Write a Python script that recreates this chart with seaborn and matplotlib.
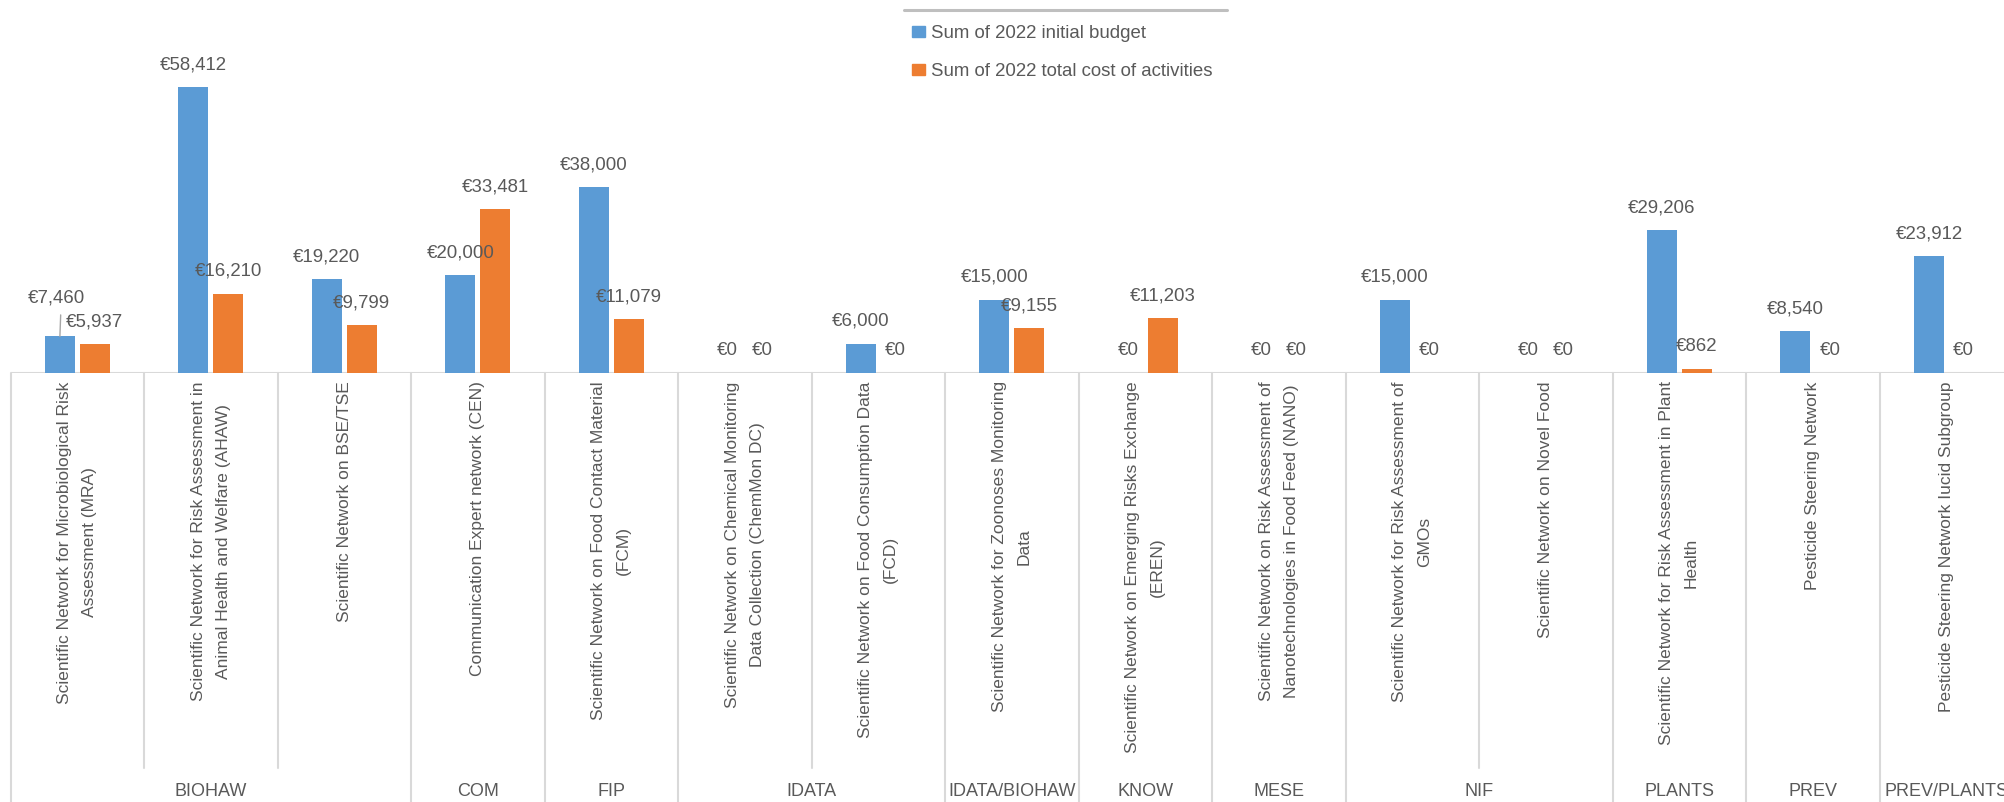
import matplotlib
matplotlib.use("Agg")
import matplotlib.pyplot as plt
import matplotlib.transforms as mtransforms
from matplotlib.lines import Line2D
import numpy as np
import pandas as pd
import seaborn as sns

sns.set_theme(style="white")
plt.rcParams["font.family"] = ["Liberation Sans", "DejaVu Sans"]

networks = [
    "Scientific Network for Microbiological Risk\nAssessment (MRA)",
    "Scientific Network for Risk Assessment in\nAnimal Health and Welfare (AHAW)",
    "Scientific Network on BSE/TSE",
    "Communication Expert network (CEN)",
    "Scientific Network on Food Contact Material\n(FCM)",
    "Scientific Network on Chemical Monitoring\nData Collection (ChemMon DC)",
    "Scientific Network on Food Consumption Data\n(FCD)",
    "Scientific Network for Zoonoses Monitoring\nData",
    "Scientific Network on Emerging Risks Exchange\n(EREN)",
    "Scientific Network on Risk Assessment of\nNanotechnologies in Food Feed (NANO)",
    "Scientific Network for Risk Assessment of\nGMOs",
    "Scientific Network on Novel Food",
    "Scientific Network for Risk Assessment in Plant\nHealth",
    "Pesticide Steering Network",
    "Pesticide Steering Network Iucid Subgroup",
]
units = ["BIOHAW", "BIOHAW", "BIOHAW", "COM", "FIP", "IDATA", "IDATA",
         "IDATA/BIOHAW", "KNOW", "MESE", "NIF", "NIF", "PLANTS", "PREV",
         "PREV/PLANTS"]
initial_budget = [7460, 58412, 19220, 20000, 38000, 0, 6000, 15000, 0, 0,
                  15000, 0, 29206, 8540, 23912]
total_cost = [5937, 16210, 9799, 33481, 11079, 0, 0, 9155, 11203, 0,
              0, 0, 862, 0, 0]
series = ["Sum of 2022 initial budget", "Sum of 2022 total cost of activities"]
colors = ["#5B9BD5", "#ED7D31"]
text_col = "#595959"
grid_col = "#D9D9D9"

df = pd.DataFrame({
    "network": networks * 2,
    "series": [series[0]] * len(networks) + [series[1]] * len(networks),
    "value": initial_budget + total_cost,
})

W, H = 2004, 802
fig = plt.figure(figsize=(W / 100, H / 100), dpi=100)
n = len(networks)
left_px, cat_px, base_px = 10.5, 133.5, 373
ax = fig.add_axes([left_px / W, 1 - base_px / H, n * cat_px / W, base_px / H])

sns.barplot(data=df, x="network", y="value", hue="series", order=networks,
            hue_order=series, palette=colors, width=0.52, gap=0.13,
            linewidth=0, saturation=1, ax=ax)
ax.legend_.remove()
ax.set_xlim(-0.5, n - 0.5)
ax.set_ylim(0, 76180)
ax.set_xlabel("")
ax.set_ylabel("")
ax.set_yticks([])
for s in ax.spines.values():
    s.set_visible(False)
ax.axhline(0, color=grid_col, lw=1.5, zorder=0)

ax.set_xticks(range(n))
ax.set_xticklabels(networks, rotation=90, fontsize=12.5, color=text_col,
                   multialignment="center", linespacing=1.8)
ax.tick_params(axis="x", length=0, pad=6)

# data labels (first budget label was dragged up in the original, with a leader line)
nudge = {(0, 0): 12}
for si, cont in enumerate(ax.containers):
    for ci, bar in enumerate(cont):
        v = bar.get_height()
        x = bar.get_x() + bar.get_width() / 2
        extra = nudge.get((si, ci), 0)
        if extra:
            ax.annotate(f"€{v:,.0f}", xy=(x, v), xytext=(-2.5, 16 + extra),
                        textcoords="offset points", ha="center", va="center",
                        fontsize=13.4, color=text_col, annotation_clip=False,
                        arrowprops=dict(arrowstyle="-", color="#A6A6A6", lw=1,
                                        relpos=(0.58, 0), shrinkA=4, shrinkB=0))
        else:
            ax.annotate(f"€{v:,.0f}", xy=(x, v), xytext=(0, 16),
                        textcoords="offset points", ha="center", va="center",
                        fontsize=13.4, color=text_col, annotation_clip=False)

# category separators and group labels
tr = mtransforms.blended_transform_factory(ax.transData, fig.transFigure)
y_base = 1 - base_px / H
y_inner = 1 - 768 / H
bounds = [0]
for i in range(1, n):
    if units[i] != units[i - 1]:
        bounds.append(i)
bounds.append(n)
for i in range(n + 1):
    y_end = 0 if i in bounds else y_inner
    ax.plot([i - 0.5, i - 0.5], [y_base, y_end], color=grid_col, lw=1.5,
            transform=tr, clip_on=False)
for a, b in zip(bounds[:-1], bounds[1:]):
    ax.text((a + b - 1) / 2, 1 - 791 / H, units[a], transform=tr,
            ha="center", va="center", fontsize=13, color=text_col)

# legend
handles = [plt.Rectangle((0, 0), 1, 1, color=c) for c in colors]
fig.legend(handles, series, loc="upper left",
           bbox_to_anchor=(912 / W, 1 - 25 / H), frameon=False,
           fontsize=13.4, labelcolor=text_col, handlelength=0.7,
           handleheight=0.55, handletextpad=0.3, labelspacing=1.13,
           borderpad=0, borderaxespad=0)
fig.add_artist(Line2D([904 / W, 1227 / W], [1 - 10 / H] * 2,
                      color="#BFBFBF", lw=2.2, transform=fig.transFigure))

fig.savefig("out.png", dpi=100)
